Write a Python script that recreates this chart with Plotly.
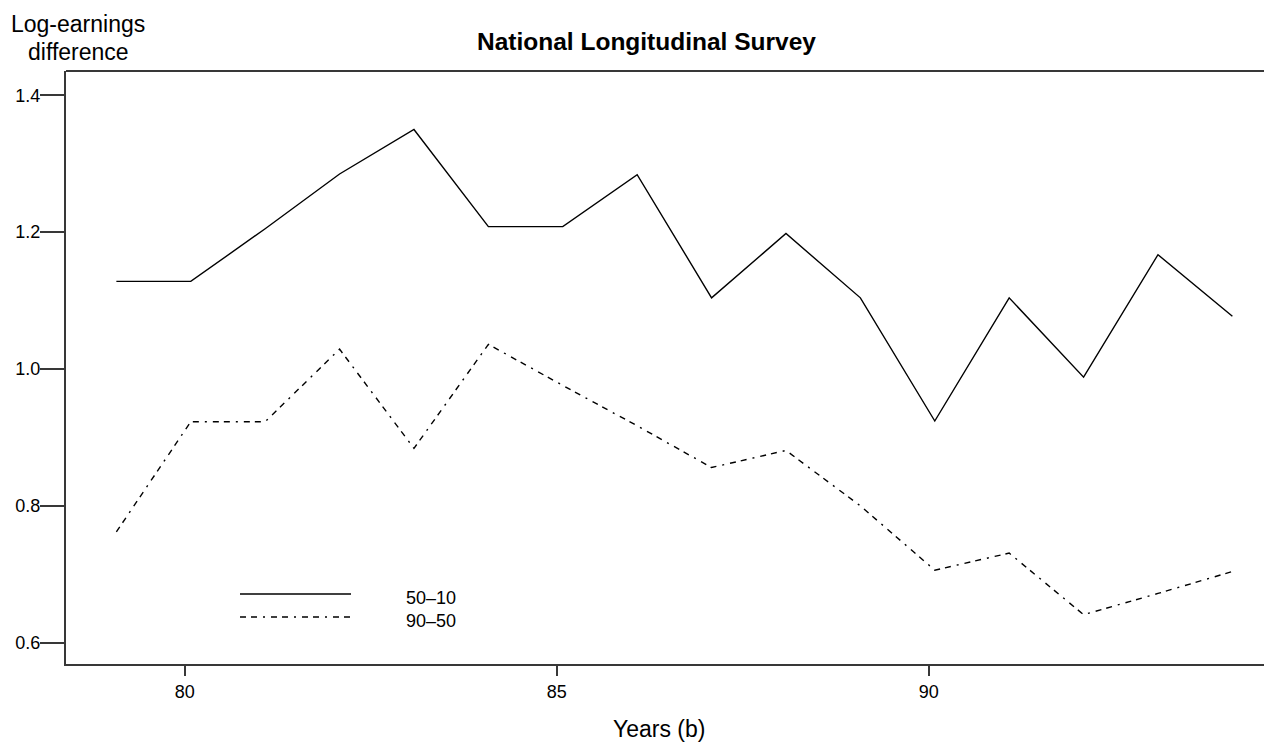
import plotly.graph_objects as go

years = [79, 80, 81, 82, 83, 84, 85, 86, 87, 88, 89, 90, 91, 92, 93, 94]
gap_50_10 = [1.128, 1.128, 1.205, 1.285, 1.350, 1.208, 1.208, 1.284, 1.104,
             1.198, 1.104, 0.924, 1.104, 0.988, 1.167, 1.077]
gap_90_50 = [0.762, 0.923, 0.923, 1.029, 0.884, 1.036, 0.976, 0.917, 0.856,
             0.881, 0.800, 0.706, 0.731, 0.641, 0.672, 0.704]
series_names = ["50\u201310", "90\u201350"]
x_tick_vals = [79.92, 84.92, 89.92]
x_tick_text = ["80", "85", "90"]
y_tick_vals = [0.6, 0.8, 1.0, 1.2, 1.4]
y_tick_text = ["0.6", "0.8", "1.0", "1.2", "1.4"]

W, H = 1264, 742
L, R, T, B = 66, 0, 71, 78
PH = H - T - B


def py(y):
    return (H - B - y) / PH


def px(x):
    return (x - L) / (W - L - R)


DASH = "6px,5px,6px,6px,2px,6px"
AXC = "#383838"
TICKFONT = dict(family="Liberation Sans, Arial", size=18, color="black")

fig = go.Figure()
fig.add_trace(go.Scatter(x=years, y=gap_50_10, mode="lines", name=series_names[0],
                         line=dict(color="black", width=1.4)))
fig.add_trace(go.Scatter(x=years, y=gap_90_50, mode="lines", name=series_names[1],
                         line=dict(color="black", width=1.4, dash=DASH)))

fig.update_layout(
    width=W, height=H,
    margin=dict(l=L, r=R, t=T, b=B),
    paper_bgcolor="white", plot_bgcolor="white",
    showlegend=False,
    font=dict(family="Liberation Sans, Arial", color="black"),
    xaxis=dict(range=[78.323, 94.425], showgrid=False, zeroline=False,
               showline=True, linecolor=AXC, linewidth=2,
               ticks="outside", ticklen=10, tickwidth=1.5, tickcolor=AXC,
               tickvals=x_tick_vals, ticktext=x_tick_text, tickfont=TICKFONT),
    yaxis=dict(range=[0.5689, 1.4355], showgrid=False, zeroline=False,
               showline=True, linecolor=AXC, linewidth=2,
               ticks="outside", ticklen=24, tickwidth=1.5, tickcolor=AXC,
               tickvals=y_tick_vals, ticktext=y_tick_text, tickfont=TICKFONT,
               ticklabelstandoff=-4),
)

# top frame line
fig.add_shape(type="line", xref="paper", yref="paper", x0=0, x1=1, y0=1, y1=1,
              line=dict(color=AXC, width=2))

# legend samples
fig.add_shape(type="line", xref="paper", yref="paper", x0=px(240), x1=px(351),
              y0=py(594), y1=py(594), line=dict(color="black", width=1.4))
fig.add_shape(type="line", xref="paper", yref="paper", x0=px(240), x1=px(351),
              y0=py(617), y1=py(617), line=dict(color="black", width=1.4, dash=DASH))

ann = [
    dict(text=series_names[0], x=px(404), y=py(598), xanchor="left", yanchor="middle",
         font=dict(size=18)),
    dict(text=series_names[1], x=px(404), y=py(620.5), xanchor="left", yanchor="middle",
         font=dict(size=18)),
    dict(text="<b>National Longitudinal Survey</b>", x=px(646), y=py(41),
         xanchor="center", yanchor="middle", font=dict(size=24.5)),
    dict(text="Log-earnings", x=px(78), y=py(24.5), xanchor="center", yanchor="middle",
         font=dict(size=23)),
    dict(text="difference", x=px(78), y=py(52), xanchor="center", yanchor="middle",
         font=dict(size=23)),
    dict(text="Years (b)", x=px(659), y=py(728.5), xanchor="center", yanchor="middle",
         font=dict(size=23)),
]
for a in ann:
    fig.add_annotation(xref="paper", yref="paper", showarrow=False, **a)

fig.write_html("out.html")
